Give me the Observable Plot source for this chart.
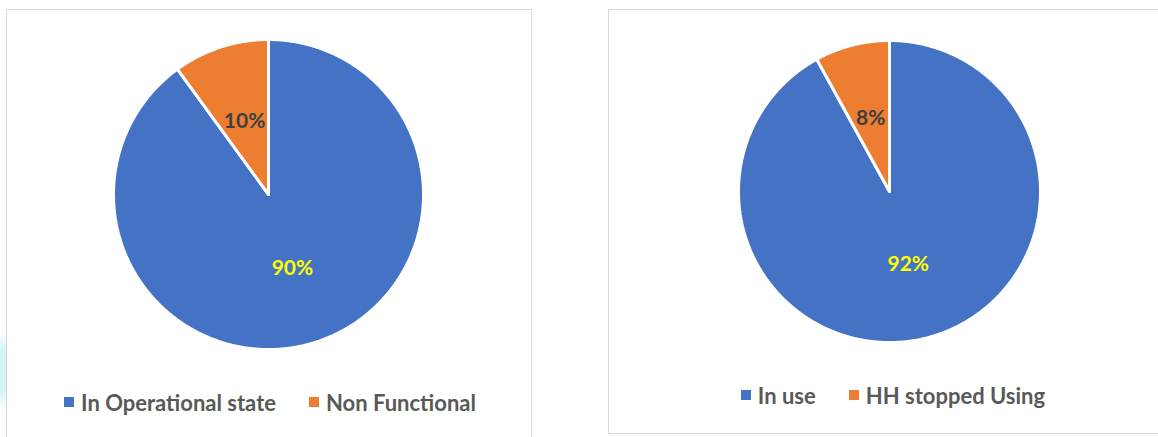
<!DOCTYPE html>
<html>
<head>
<meta charset="utf-8">
<script src="https://cdn.jsdelivr.net/npm/d3@7"></script>
<script src="https://cdn.jsdelivr.net/npm/@observablehq/plot@0.6"></script>
<style>
  html, body { margin: 0; padding: 0; background: #fff; }
  body { width: 1158px; height: 437px; position: relative; overflow: hidden; font-family: Lato, "Open Sans", sans-serif; }
  .panel { position: absolute; border: 1px solid #d9d9d9; background: #fff; box-sizing: border-box; }
  .pie { position: absolute; }
  .legend { position: absolute; display: flex; justify-content: center; align-items: center; }
  .legend .lg-swatches, .legend div, .legend span { font-family: Lato, sans-serif !important; font-weight: 700 !important; font-size: 22px !important; color: #595959 !important; }
  .cyan { position: absolute; left: 0; top: 330px; width: 6px; height: 82px; background: linear-gradient(to bottom, rgba(215,248,252,0), #d4f6fb 25%, #d4f6fb 75%, rgba(215,248,252,0)); }
</style>
</head>
<body>
<div class="cyan"></div>
<div class="panel" style="left:6px; top:9px; width:526px; height:440px;"></div>
<div class="panel" style="left:608px; top:9px; width:560px; height:425px;"></div>
<script>
// ---- data ----
const pie1Categories = ["In Operational state", "Non Functional"];
const pie1Values = [90, 10];
const pie2Categories = ["In use", "HH stopped Using"];
const pie2Values = [92, 8];
const sliceColors = ["#4472C4", "#ED7D31"];
const labelColors = ["#FFFF00", "#404040"];

function drawPie(categories, values, cx, cy, r, legendX, legendY) {
  const m = 4;
  const arcs = d3.pie().sort(null).value(d => d)(values);
  const total = d3.sum(values);
  // polygon outline per slice (unit circle coordinates, derived from the values)
  const pts = [];
  arcs.forEach((a, i) => {
    const cat = categories[i];
    pts.push({cat, x: 0, y: 0});
    const n = Math.max(2, Math.ceil((a.endAngle - a.startAngle) / (Math.PI / 360)));
    for (let k = 0; k <= n; k++) {
      const t = a.startAngle + (a.endAngle - a.startAngle) * k / n;
      pts.push({cat, x: Math.sin(t), y: Math.cos(t)});
    }
    pts.push({cat, x: 0, y: 0});
  });
  const labels = arcs.map((a, i) => {
    const mid = (a.startAngle + a.endAngle) / 2;
    return {i, x: 0.5 * Math.sin(mid), y: 0.5 * Math.cos(mid), text: Math.round(values[i] / total * 100) + "%"};
  });
  const size = 2 * r + 2 * m;
  const chart = Plot.plot({
    width: size, height: size, margin: m,
    x: {domain: [-1, 1], axis: null},
    y: {domain: [-1, 1], axis: null},
    color: {domain: categories, range: sliceColors},
    style: {background: "transparent", overflow: "visible"},
    marks: [
      Plot.line(pts, {x: "x", y: "y", z: "cat", fill: "cat", stroke: "#fff", strokeWidth: 3, strokeLinejoin: "miter"}),
      ...labels.map(l => Plot.text([l], {x: "x", y: "y", text: "text", fill: labelColors[l.i],
        fontSize: 21, fontWeight: 700, fontFamily: "Lato, sans-serif"}))
    ]
  });
  chart.classList.add("pie");
  chart.style.left = (cx - r - m) + "px";
  chart.style.top = (cy - r - m) + "px";
  document.body.appendChild(chart);

  const lg = Plot.legend({
    color: {domain: categories, range: sliceColors},
    legend: "swatches", swatchSize: 10, className: "lg",
    style: {fontFamily: "Lato, sans-serif", fontSize: "22px", fontWeight: 700, color: "#595959"}
  });
  const holder = document.createElement("div");
  holder.className = "legend";
  holder.style.left = (legendX - 300) + "px";
  holder.style.width = "600px";
  holder.style.top = (legendY - 17) + "px";
  holder.style.height = "34px";
  holder.appendChild(lg);
  document.body.appendChild(holder);
}

drawPie(pie1Categories, pie1Values, 268, 194, 155, 270, 402);
drawPie(pie2Categories, pie2Values, 889, 191, 151, 893, 395);
</script>
<style>
  .lg-swatch { margin-right: 33px !important; }
  .lg-swatch:last-child { margin-right: 0 !important; }
  .lg-swatch svg { margin-right: 7px !important; }
  .lg-swatches-wrap { min-height: 0 !important; margin: 0 !important; }
</style>
</body>
</html>
